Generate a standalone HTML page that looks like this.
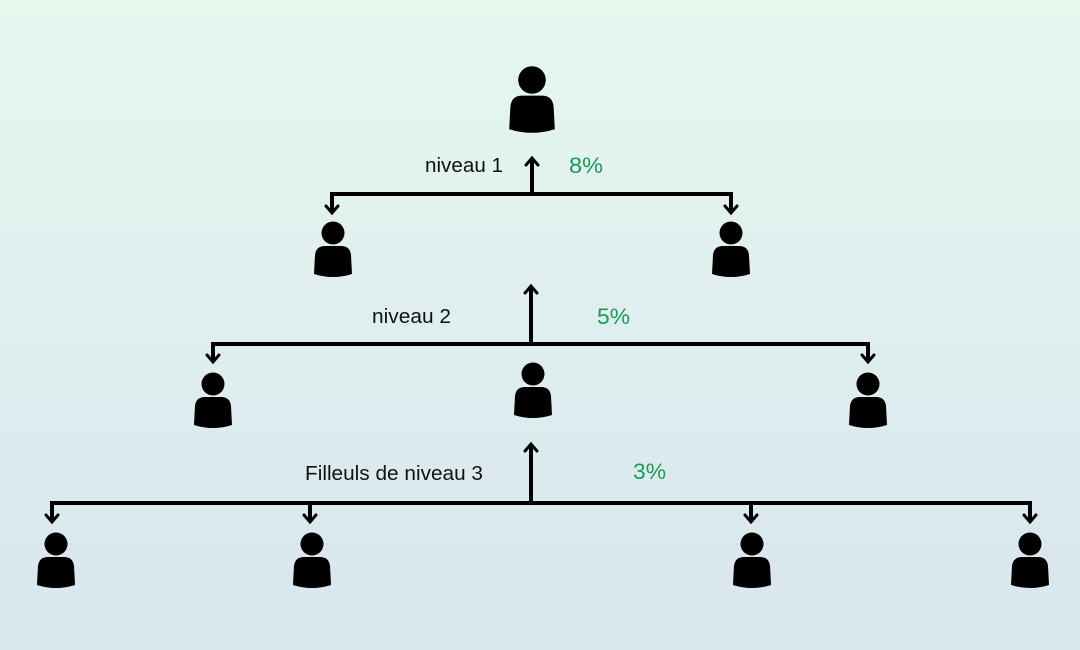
<!DOCTYPE html>
<html><head><meta charset="utf-8"><style>
html,body{margin:0;padding:0;}
body{width:1080px;height:650px;overflow:hidden;background:linear-gradient(180deg,#e6f7ee 0%,#dfeeee 50%,#d8e6ee 100%);}
svg{display:block;}
text{font-family:"Liberation Sans",sans-serif;font-size:20px;}
</style></head><body>
<svg width="1080" height="650" viewBox="0 0 1080 650">
<defs>
<g id="p">
<circle cx="0" cy="0" r="11.5" fill="#000"/>
<path d="M -19,41 L -18,22 Q -17,13 -8,13 L 8,13 Q 17,13 18,22 L 19,41 Q 0,47 -19,41 Z" fill="#000"/>
</g>
</defs>
<g stroke="#000" stroke-width="4" fill="none">
<polyline points="332,213 332,194 731,194 731,213"/>
<line x1="532" y1="194" x2="532" y2="159"/>
<polyline points="213,362 213,344 868,344 868,362"/>
<line x1="531" y1="344" x2="531" y2="287"/>
<polyline points="52,522 52,503 1030,503 1030,522"/>
<line x1="531" y1="503" x2="531" y2="445"/>
<line x1="310" y1="503" x2="310" y2="522"/>
<line x1="751" y1="503" x2="751" y2="522"/>
</g>
<g stroke="#000" stroke-width="3" fill="none" stroke-linecap="round">
<polyline points="526,165 532,158 538,165"/>
<polyline points="525,293 531,286 537,293"/>
<polyline points="525,451 531,444 537,451"/>
<polyline points="326,206 332,213 338,206"/>
<polyline points="725,206 731,213 737,206"/>
<polyline points="207,355 213,362 219,355"/>
<polyline points="862,355 868,362 874,355"/>
<polyline points="46,515 52,522 58,515"/>
<polyline points="304,515 310,522 316,515"/>
<polyline points="745,515 751,522 757,515"/>
<polyline points="1024,515 1030,522 1036,515"/>
</g>
<use href="#p" transform="translate(532,80) scale(1.2)"/>
<use href="#p" x="333" y="233"/>
<use href="#p" x="731" y="233"/>
<use href="#p" x="213" y="384"/>
<use href="#p" x="533" y="374"/>
<use href="#p" x="868" y="384"/>
<use href="#p" x="56" y="544"/>
<use href="#p" x="312" y="544"/>
<use href="#p" x="752" y="544"/>
<use href="#p" x="1030" y="544"/>
<text x="425" y="172" fill="#111" textLength="78" lengthAdjust="spacingAndGlyphs">niveau 1</text>
<text x="569" y="173" fill="#1a9a55" style="font-size:22px" textLength="34" lengthAdjust="spacingAndGlyphs">8%</text>
<text x="372" y="323" fill="#111" textLength="79" lengthAdjust="spacingAndGlyphs">niveau 2</text>
<text x="597" y="324" fill="#1a9a55" style="font-size:22px" textLength="33" lengthAdjust="spacingAndGlyphs">5%</text>
<text x="305" y="480" fill="#111" textLength="178" lengthAdjust="spacingAndGlyphs">Filleuls de niveau 3</text>
<text x="633" y="479" fill="#1a9a55" style="font-size:22px" textLength="33" lengthAdjust="spacingAndGlyphs">3%</text>
</svg>
</body></html>
